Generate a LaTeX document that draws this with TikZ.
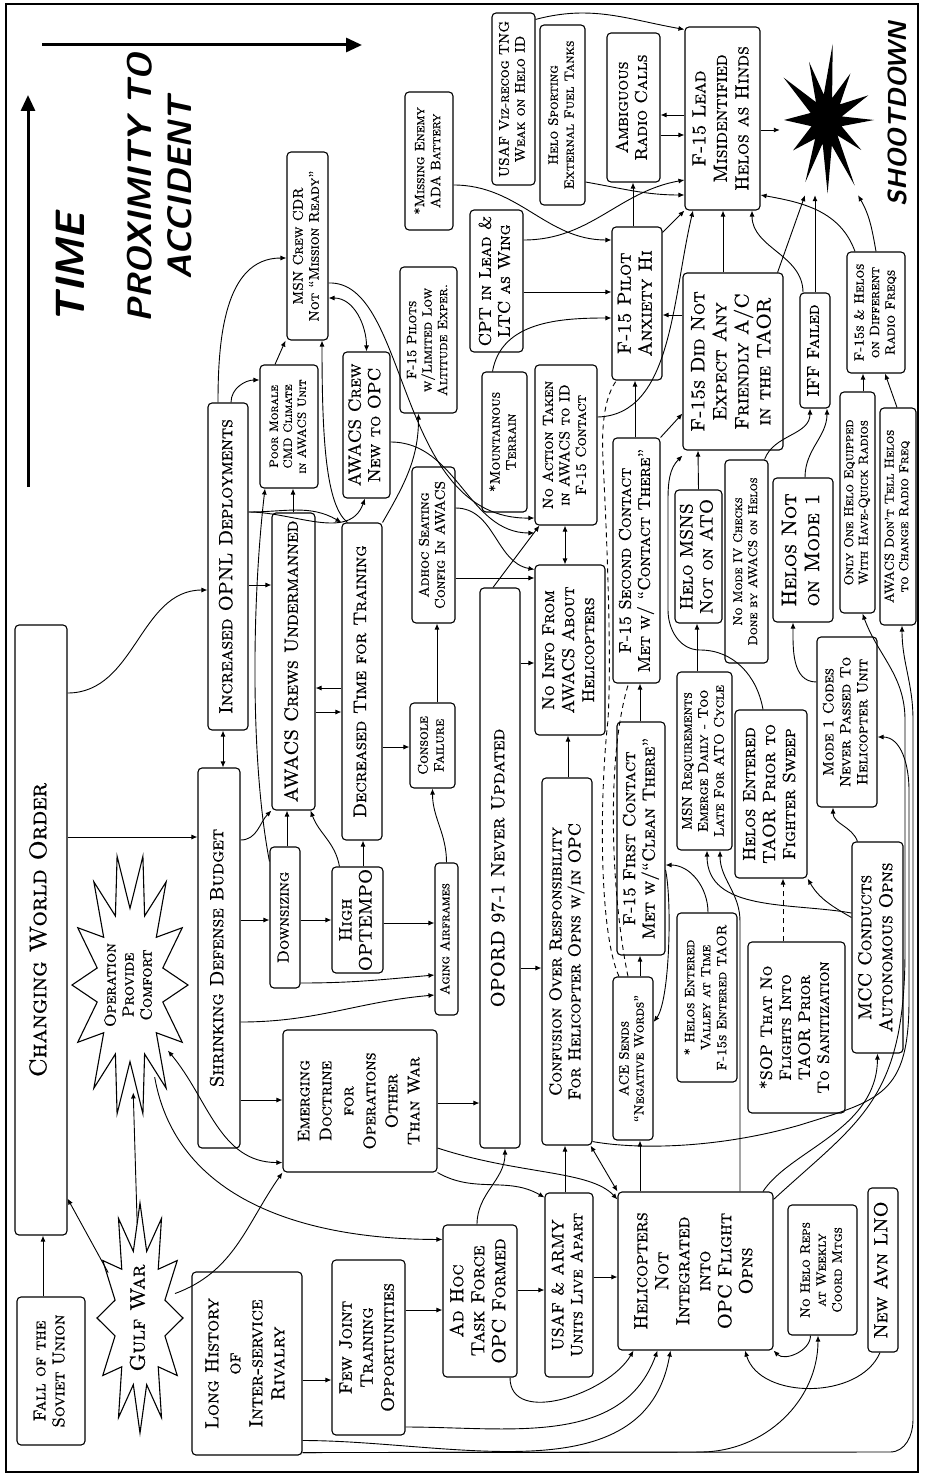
\documentclass[tikz,border=0pt]{standalone}
\usepackage{fontspec}
\usepackage{graphicx}
\newfontfamily\capsfont{lmromancaps10-regular.otf}[Ligatures=TeX, FakeBold=0.9]
\usetikzlibrary{arrows.meta,shapes.geometric}
\tikzset{cbox/.style = {draw, rounded corners=4pt, line width=1.1pt, inner sep=0pt}}
\tikzset{fs/.style 2 args = {font=\fontsize{#1}{#2}\selectfont\capsfont}}
\tikzset{arr/.style = {line width=0.9pt, -{Latex[length=6pt,width=5pt]}}}
\tikzset{darr/.style = {line width=0.9pt, {Latex[length=6pt,width=5pt]}-{Latex[length=6pt,width=5pt]}}}
\tikzset{dsh/.style = {line width=0.9pt, dash pattern=on 5pt off 4pt}}
\tikzset{ttl/.style = {font=\fontsize{#1}{#1}\selectfont\sffamily\bfseries\itshape, rotate=90, inner sep=0pt}}
\newcommand{\vt}[1]{\rotatebox{90}{\begin{tabular}{@{}c@{}}#1\end{tabular}}}

\begin{document}
\begin{tikzpicture}[x=1pt, y=-1pt]
\useasboundingbox (0,0) rectangle (924,1477);
\draw[line width=1.4pt] (6,4) rectangle (918,1472);

% time and proximity axes
\draw[line width=3pt, -{Triangle[length=16pt,width=14pt]}] (28,487) -- (28,95);
\draw[line width=3pt, -{Triangle[length=16pt,width=14pt]}] (42,45) -- (362,45);
\node[ttl=41] (time) at (70,268) {TIME};
\node[ttl=34] (prox) at (140,188) {PROXIMITY TO};
\node[ttl=34] (acc) at (180,188) {ACCIDENT};
\node[ttl=26] (shoot) at (897,114) {SHOOTDOWN};

% bursts
\draw[line width=1.1pt] plot[samples at={0,...,27}]
  ({130+58*(1-0.42*mod(\x,2))*cos(\x*360/28)}, {985+132*(1-0.42*mod(\x,2))*sin(\x*360/28)}) -- cycle;
\draw[line width=1.1pt] plot[samples at={0,...,23}]
  ({140+43*(1-0.4*mod(\x,2))*cos(\x*15)}, {1318+115*(1-0.4*mod(\x,2))*sin(\x*15)}) -- cycle;
\fill[shift={(826,120)}, yscale=1.6] (0:48) -- (14:16) -- (28:40) -- (40:15) -- (55:50) -- (70:17)
  -- (88:46) -- (103:15) -- (118:44) -- (133:16) -- (150:38) -- (165:15) -- (180:42) -- (196:16)
  -- (212:50) -- (228:15) -- (245:40) -- (262:16) -- (278:48) -- (294:15) -- (310:38) -- (325:17)
  -- (340:45) -- (352:16) -- cycle;
\node[ellipse, minimum width=92pt, minimum height=150pt, inner sep=0pt] (boom) at (826,120) {};
\node[ellipse, minimum width=95pt, minimum height=215pt, inner sep=0pt, fs={16}{18}] (opc) at (130,985) {\vt{Operation\\Provide\\Comfort}};
\node[ellipse, minimum width=72pt, minimum height=190pt, inner sep=0pt, fs={21}{23}] (gulf) at (140,1318) {\vt{Gulf War}};

% boxes
\node[cbox, minimum width=68pt, minimum height=148pt, fs={17}{19}] (fall) at (51,1371) {\vt{Fall of the\\Soviet Union}};
\node[cbox, minimum width=52pt, minimum height=610pt, fs={24}{26}] (cwo) at (41,930) {\vt{Changing World Order}};
\node[cbox, minimum width=110pt, minimum height=183pt, fs={19}{22}] (lhist) at (247,1363.5) {\vt{Long History\\of\\Inter-service\\Rivalry}};
\node[cbox, minimum width=73pt, minimum height=175pt, fs={18}{21}] (fewjt) at (368.5,1347.5) {\vt{Few Joint\\Training\\Opportunities}};
\node[cbox, minimum width=74pt, minimum height=152pt, fs={19}{21}] (adhoc) at (480,1301) {\vt{Ad Hoc\\Task Force\\OPC Formed}};
\node[cbox, minimum width=48pt, minimum height=184pt, fs={16.5}{19}] (usaf) at (569,1285) {\vt{USAF \& ARMY\\Units Live Apart}};
\node[cbox, minimum width=155pt, minimum height=158pt, fs={19}{21}] (heli) at (695.5,1271) {\vt{Helicopters\\Not\\Integrated\\into\\OPC Flight\\Opns}};
\node[cbox, minimum width=69pt, minimum height=130pt, fs={13.5}{16}] (norep) at (822.5,1270) {\vt{No Helo Reps\\at Weekly\\Coord Mtgs}};
\node[cbox, minimum width=30pt, minimum height=164pt, fs={19}{21}] (lno) at (883,1270) {\vt{New Avn LNO}};
\node[cbox, minimum width=42pt, minimum height=380pt, fs={19}{21}] (sdb) at (219,958) {\vt{Shrinking Defense Budget}};
\node[cbox, minimum width=154pt, minimum height=142pt, fs={17}{22}] (emerg) at (360,1101) {\vt{Emerging\\Doctrine\\for\\Operations\\Other\\Than War}};
\node[cbox, minimum width=40pt, minimum height=560pt, fs={19}{21}] (opord) at (500,868) {\vt{OPORD 97-1 Never Updated}};
\node[cbox, minimum width=50pt, minimum height=367pt, fs={17}{19}] (conf) at (567,961.5) {\vt{Confusion Over Responsibility\\For Helicopter Opns w/in OPC}};
\node[cbox, minimum width=40pt, minimum height=163pt, fs={13.5}{15}] (ace) at (633,1058.5) {\vt{ACE Sends\\``Negative Words''}};
\node[cbox, minimum width=60pt, minimum height=169pt, fs={13.5}{16}] (valley) at (707,997.5) {\vt{* Helos Entered\\Valley at Time\\F-15s Entered TAOR}};
\node[cbox, minimum width=97pt, minimum height=171pt, fs={16.5}{19}] (sop) at (796.5,1027.5) {\vt{*SOP That No\\Flights Into\\TAOR Prior\\To Sanitization}};
\node[cbox, minimum width=51pt, minimum height=211pt, fs={18.5}{21}] (mcc) at (877.5,947.5) {\vt{MCC Conducts\\Autonomous Opns}};
\node[cbox, minimum width=48pt, minimum height=233pt, fs={17.5}{19.5}] (first) at (641,838.5) {\vt{F-15 First Contact\\Met w/``Clean There''}};
\node[cbox, minimum width=55pt, minimum height=178pt, fs={14}{16}] (msnreq) at (704.5,761) {\vt{MSN Requirements\\Emerge Daily - Too\\Late For ATO Cycle}};
\node[cbox, minimum width=72pt, minimum height=168pt, fs={17.5}{20}] (taor) at (771,794) {\vt{Helos Entered\\TAOR Prior to\\Fighter Sweep}};
\node[cbox, minimum width=60pt, minimum height=170pt, fs={15}{17}] (mode1c) at (847,722) {\vt{Mode 1 Codes\\Never Passed To\\Helicopter Unit}};
\node[cbox, minimum width=47pt, minimum height=245pt, fs={17}{19}] (second) at (636.5,560.5) {\vt{F-15 Second Contact\\Met w/ ``Contact There''}};
\node[cbox, minimum width=47pt, minimum height=133pt, fs={18}{20}] (msns) at (698.5,556.5) {\vt{Helo MSNS\\Not on ATO}};
\node[cbox, minimum width=43pt, minimum height=203pt, fs={12.5}{15}] (modeiv) at (746.5,561.5) {\vt{No Mode IV Checks\\Done by AWACS on Helos}};
\node[cbox, minimum width=60pt, minimum height=144pt, fs={21}{23}] (notm1) at (803,550) {\vt{Helos Not\\on Mode 1}};
\node[cbox, minimum width=35pt, minimum height=221pt, fs={13}{14.5}] (havequick) at (857.5,502.5) {\vt{Only One Helo Equipped\\With Have-Quick Radios}};
\node[cbox, minimum width=36pt, minimum height=217pt, fs={13}{14.5}] (donttell) at (898,516.5) {\vt{AWACS Don't Tell Helos\\to Change Radio Freq}};
\node[cbox, minimum width=30pt, minimum height=115pt, fs={17}{19}] (iff) at (815,350.5) {\vt{IFF Failed}};
\node[cbox, minimum width=58pt, minimum height=121pt, fs={13.5}{15.5}] (diffreq) at (876,312.5) {\vt{F-15s \& Helos\\on Different\\Radio Freqs}};
\node[cbox, minimum width=100pt, minimum height=177pt, fs={19.5}{22}] (noexp) at (733,361.5) {\vt{F-15s Did Not\\Expect Any\\Friendly A/C\\in the TAOR}};
\node[cbox, minimum width=75pt, minimum height=183pt, fs={19}{21.5}] (lead) at (722.5,118.5) {\vt{F-15 Lead\\Misidentified\\Helos as Hinds}};
\node[cbox, minimum width=53pt, minimum height=149pt, fs={17}{19}] (ambig) at (633.5,107.5) {\vt{Ambiguous\\Radio Calls}};
\node[cbox, minimum width=50pt, minimum height=153pt, fs={19}{21}] (anx) at (637,303.5) {\vt{F-15 Pilot\\Anxiety Hi}};
\node[cbox, minimum width=45pt, minimum height=180pt, fs={13.5}{16}] (fuel) at (562.5,115) {\vt{Helo Sporting\\External Fuel Tanks}};
\node[cbox, minimum width=43pt, minimum height=172pt, fs={14}{16}] (vizrec) at (513.5,99) {\vt{USAF Viz-recog TNG\\Weak on Helo ID}};
\node[cbox, minimum width=53pt, minimum height=142pt, fs={17}{19}] (cpt) at (496.5,281) {\vt{CPT in Lead \&\\LTC as Wing}};
\node[cbox, minimum width=48pt, minimum height=138pt, fs={13.5}{16}] (ada) at (429,161) {\vt{*Missing Enemy\\ADA Battery}};
\node[cbox, minimum width=57pt, minimum height=146pt, fs={13.5}{15.5}] (pilots) at (428.5,340) {\vt{F-15 Pilots\\w/Limited Low\\Altitude Exper.}};
\node[cbox, minimum width=45pt, minimum height=140pt, fs={14}{16}] (mount) at (504.5,442) {\vt{*Mountainous\\Terrain}};
\node[cbox, minimum width=62pt, minimum height=160pt, fs={14.5}{16.5}] (noact) at (566,445) {\vt{No Action Taken\\in AWACS to ID\\F-15 Contact}};
\node[cbox, minimum width=70pt, minimum height=170pt, fs={17}{20}] (noinfo) at (570,650) {\vt{No Info From\\AWACS About\\Helicopters}};
\node[cbox, minimum width=43pt, minimum height=156pt, fs={14}{16}] (adhocseat) at (433.5,545) {\vt{Adhoc Seating\\Config In AWACS}};
\node[cbox, minimum width=45pt, minimum height=85pt, fs={14}{16}] (console) at (432.5,745.5) {\vt{Console\\Failure}};
\node[cbox, minimum width=23pt, minimum height=152pt, fs={13}{14}] (aging) at (446.5,939) {\vt{Aging Airframes}};
\node[cbox, minimum width=51pt, minimum height=106pt, fs={18}{20}] (optempo) at (357.5,920) {\vt{High\\OPTEMPO}};
\node[cbox, minimum width=40pt, minimum height=317pt, fs={18}{20}] (decr) at (362,681.5) {\vt{Decreased Time for Training}};
\node[cbox, minimum width=47pt, minimum height=146pt, fs={17.5}{19.5}] (crewnew) at (366.5,425) {\vt{AWACS Crew\\New to OPC}};
\node[cbox, minimum width=41pt, minimum height=188pt, fs={14}{16}] (msncdr) at (307.5,246) {\vt{MSN Crew CDR\\Not ``Mission Ready''}};
\node[cbox, minimum width=58pt, minimum height=123pt, fs={12}{14}] (morale) at (289,426.5) {\vt{Poor Morale\\CMD Climate\\in AWACS Unit}};
\node[cbox, minimum width=43pt, minimum height=297pt, fs={19}{21}] (undermanned) at (293.5,661.5) {\vt{AWACS Crews Undermanned}};
\node[cbox, minimum width=30pt, minimum height=141pt, fs={16}{18}] (downsz) at (285,917.5) {\vt{Downsizing}};
\node[cbox, minimum width=40pt, minimum height=327pt, fs={19}{21}] (incr) at (228,566.5) {\vt{Increased OPNL Deployments}};

% early causes
\draw[arr] ([xshift=-8pt]fall.north) -- ([xshift=-8pt]fall.north |- cwo.south);
\draw[arr] (gulf.125) -- ([yshift=37pt]cwo.south east);
\draw[arr] (gulf) -- (opc);
\draw[arr] (gulf.35) to[out=20,in=235] (emerg.south west);
\draw[darr] (opc.300) to[out=-50,in=180] ([yshift=10pt]emerg.south west);
\draw[arr] (opc.285) to[out=-80,in=180] ([yshift=-15pt]adhoc.north west);
\draw[arr] ([yshift=93pt]cwo.east) -- ([yshift=121pt]sdb.west);
\draw[arr] ([yshift=237pt]cwo.east) to[out=0,in=180] ([yshift=-23.5pt]incr.west);

% budget and manning
\draw[darr] ([xshift=4pt]sdb.north) -- ([xshift=-5pt]incr.south);
\draw[arr] ([yshift=118pt]sdb.east) to[out=0,in=225] (undermanned.south west);
\draw[arr] ([yshift=38pt]sdb.east) -- ([yshift=-2.5pt]downsz.west);
\draw[arr] ([yshift=-142pt]sdb.east) -- ([yshift=1pt]emerg.west);
\draw[arr] ([yshift=-64pt]sdb.east) to[out=0,in=185] ([yshift=-56pt]aging.west);
\draw[arr] ([yshift=-65.5pt]downsz.east) to[out=0,in=185] ([yshift=-36pt]aging.west);
\draw[arr] ([xshift=2pt]downsz.north) -- ([xshift=-6.5pt]undermanned.south);
\draw[arr] ([yshift=-15pt]downsz.north west) .. controls (250,760) and (252,600) .. ([xshift=-24pt]morale.south);
\draw[arr] ([xshift=-0.5pt]undermanned.north) -- ([xshift=4pt]morale.south);
\draw[arr] ([xshift=3pt]incr.north) to[out=90,in=180] ([yshift=46.5pt]morale.west);
\draw[arr] ([xshift=-10pt]incr.north) to[out=90,in=180] ([yshift=-12pt]msncdr.west);
\draw[arr] ([yshift=-18.5pt]incr.east) -- ([yshift=76.5pt]undermanned.west);
\draw[arr] ([yshift=54.5pt]incr.east) to[out=0,in=150] (decr.north west);
\draw[arr] ([yshift=54.5pt]incr.east) to[out=0,in=250] ([xshift=-1.5pt]crewnew.south);
\draw[arr] ([xshift=-14pt]morale.north) -- ([xshift=-22pt]msncdr.south);
\draw[arr] ([xshift=6pt]decr.north west) .. controls (326,505) and (322,440) .. ([xshift=14.5pt]msncdr.south);
\draw[darr] ([yshift=-52pt]msncdr.east) to[out=0,in=90] (crewnew.north);
\draw[arr] ([yshift=-37pt]msncdr.east) .. controls (410,280) and (395,520) .. ([yshift=-73pt]noact.west);
\draw[arr] ([yshift=-17pt]crewnew.east) to[out=0,in=180] ([yshift=-88pt]noact.west);
\draw[arr] (decr.north east) to[out=60,in=270] ([xshift=-10pt]pilots.south);
\draw[arr] ([yshift=-6.5pt]decr.west) -- ([yshift=-26.5pt]undermanned.east);
\draw[arr] ([yshift=-50.5pt]undermanned.east) -- ([yshift=-30.5pt]decr.west);
\draw[arr] ([xshift=8pt]optempo.north west) to[out=100,in=290] ([xshift=-5pt]undermanned.south east);
\draw[arr] ([xshift=5.5pt]optempo.north) -- ([xshift=1pt]decr.south);
\draw[arr] ([yshift=-2.5pt]downsz.east) -- (optempo.west);
\draw[arr] ([yshift=-3pt]optempo.east) -- ([yshift=16pt]aging.west);
\draw[arr] (aging.north) to[out=90,in=270] (console.south);
\draw[arr] ([yshift=-65.5pt]decr.east) -- ([yshift=-1.5pt]console.west);
\draw[arr] ([xshift=4.5pt]console.north) -- ([xshift=3.5pt]adhocseat.south);
\draw[arr] ([yshift=-33pt]adhocseat.east) -- ([yshift=72pt]noinfo.west);
\draw[arr] ([yshift=37pt]adhocseat.east) to[out=0,in=170] ([yshift=-5pt]noinfo.north west);

% orders and organisation
\draw[arr] ([yshift=205pt]opord.east) -- ([yshift=-13pt]noinfo.west);
\draw[arr] ([xshift=-7pt]opord.north) -- ([xshift=5pt]noact.south west);
\draw[darr] ([xshift=-1pt]noact.south) -- ([xshift=-5pt]noinfo.north);
\draw[arr] ([yshift=-100pt]opord.east) -- ([yshift=-6.5pt]conf.west);
\draw[arr] ([xshift=1pt]conf.north) -- ([xshift=-2pt]noinfo.south);
\draw[arr] ([yshift=-2pt]emerg.east) -- ([yshift=-235pt]opord.west);
\draw[arr] ([xshift=-3pt]adhoc.north) to[out=90,in=270] ([xshift=5pt]opord.south);
\draw[arr] ([yshift=11pt]adhoc.east) -- ([yshift=-5pt]usaf.west);
\draw[arr] ([xshift=-4pt]usaf.north) -- ([xshift=-2pt]conf.south);
\draw[arr] ([yshift=8pt]usaf.east) -- ([yshift=-6pt]heli.west);
\draw[arr] ([yshift=37.5pt]fewjt.east) -- ([yshift=-9pt]adhoc.west);
\draw[arr] ([yshift=-16.5pt]lhist.east) -- ([yshift=-32.5pt]fewjt.west);
\draw[arr] (emerg.south east) to[out=-30,in=150] ([yshift=-5pt]usaf.north west);
\draw[arr] ([yshift=-47pt]emerg.east) .. controls (520,1175) and (590,1170) .. ([yshift=-8pt]heli.north west);
\draw[darr] ([xshift=-2pt]conf.south east) -- (heli.north west);
\draw[arr] ([yshift=4pt]conf.south east) .. controls (640,1150) and (720,1148) .. (800,1125)
  .. controls (880,1100) and (909,1095) .. (909,1000) -- (909,790) to[out=90,in=0] ([yshift=-15pt]mode1c.east);
\draw[arr] ([xshift=30pt]adhoc.south) to[out=270,in=240] ([xshift=-62pt]heli.south);
\draw[arr] ([yshift=-79.5pt]fewjt.east) to[out=0,in=250] ([xshift=-38pt]heli.south);
\draw[arr] ([yshift=-77pt]lhist.east) to[out=0,in=260] ([xshift=-25pt]heli.south);
\draw[arr] ([xshift=-12pt]norep.south) to[out=270,in=-45] (heli.south east);
\draw[arr] ([xshift=-3pt]lno.south) .. controls (860,1400) and (760,1400) .. ([xshift=49.5pt]heli.south);
\draw[arr] ([yshift=3pt]lhist.south east) -- (700,1452) to[out=0,in=270] ([xshift=-4.5pt]norep.south);
\draw[arr] ([yshift=3pt]lhist.south east) -- (890,1452) to[out=0,in=270] (913,1420) -- (913,720) to[out=90,in=270] ([xshift=4pt]donttell.south);
\draw[arr] ([xshift=67.5pt]heli.north) .. controls (790,1150) and (877,1130) .. (mcc.south);
\draw[arr] ([yshift=-8pt]heli.north east) .. controls (860,1120) and (905,1100) .. (905,950) -- (905,720) to[out=90,in=290] ([xshift=5pt]havequick.south);
\draw[arr] ([xshift=44.5pt]heli.north) -- ++(0,-270) to[out=90,in=270] ([xshift=15.5pt]msnreq.south);

% helicopter operations
\draw[arr] ([yshift=34.5pt]mcc.west) to[out=170,in=270] ([xshift=2.5pt]msnreq.south);
\draw[arr] ([yshift=30pt]mcc.west) to[out=150,in=300] (taor.south east);
\draw[arr] ([xshift=-20pt]mcc.north) to[out=110,in=270] ([xshift=-14pt]mode1c.south);
\draw[dsh, arr] ([xshift=-13.5pt]sop.north) -- ([xshift=12pt]taor.south);
\draw[arr] ([yshift=40pt]mode1c.west) to[out=180,in=270] ([xshift=-10pt]notm1.south);
\draw[arr] ([xshift=2pt]notm1.north) to[out=90,in=270] ([xshift=12pt]iff.south);
\draw[arr] ([xshift=-4pt]modeiv.north east) to[out=70,in=270] ([xshift=-5pt]iff.south);
\draw[arr] (iff.north) -- ([xshift=-11pt]boom.south);
\draw[arr] ([xshift=-12pt]iff.north) to[out=90,in=270] ([xshift=29.5pt]lead.south);
\draw[arr] ([xshift=5.5pt]havequick.north) -- ([xshift=-13pt]diffreq.south);
\draw[arr] ([xshift=-1pt]donttell.north) -- ([xshift=9pt]diffreq.south);
\draw[arr] (diffreq.north) to[out=100,in=-60] ([xshift=32pt]boom.south);
\draw[arr] ([xshift=-21pt]diffreq.north) to[out=110,in=-10] ([yshift=-76.5pt]lead.east);

% contacts and pilots
\draw[arr] ([xshift=-1pt]first.north) -- ([xshift=3.5pt]second.south);
\draw[arr] ([xshift=7pt]ace.north) -- ([xshift=-1pt]first.south);
\draw[arr] ([xshift=-55.5pt]heli.north) -- ([xshift=7pt]ace.south);
\draw[arr] ([xshift=-1.5pt]second.north) -- ([xshift=-2pt]anx.south);
\draw[arr] (second.north east) -- ([yshift=37pt]noexp.south west);
\draw[arr] (msns.north) -- ([xshift=-35pt]noexp.south);
\draw[arr] ([xshift=-7.5pt]msnreq.north) -- ([xshift=-1.5pt]msns.south);
\draw[arr] ([xshift=1pt]valley.north) to[out=90,in=0] ([yshift=-26.5pt]first.east);
\draw[arr] ([yshift=-31.5pt]first.east) .. controls (672,900) and (670,1000) .. ([yshift=36.5pt]ace.east);
\draw[arr] ([yshift=28pt]noact.east) .. controls (672,415) and (672,300) .. ([xshift=-29.5pt]lead.south);
\draw[arr] ([xshift=-8pt]taor.north) to[out=100,in=0] (700,650) to[out=180,in=270] (668,610) -- (668,500) to[out=90,in=225] ([yshift=-5pt]noexp.south west);
\draw[dsh] ([xshift=-14pt]ace.north) .. controls (598,930) and (600,790) .. (608,720)
  .. controls (612,650) and (606,520) .. (603,460) .. controls (601,420) and (606,395) .. ([xshift=5pt]anx.south west);
\draw[dsh] ([xshift=-5pt]ace.north) .. controls (612,900) and (605,760) .. ([xshift=-8pt]second.south);
\draw[arr] ([yshift=-11.5pt]lead.east) -- ([yshift=-10pt]boom.west);
\draw[arr] ([xshift=-10pt]noexp.north) -- ([xshift=0.5pt]lead.south);
\draw[arr] ([xshift=-6pt]noexp.north east) -- ([xshift=-21pt]boom.south);
\draw[arr] ([yshift=46.5pt]noexp.west) -- ([yshift=-11.5pt]anx.east);
\draw[arr] ([yshift=-6pt]anx.north east) -- (lead.south west);
\draw[arr] ([xshift=-4pt]anx.north) -- ([xshift=-0.5pt]ambig.south);
\draw[arr] ([yshift=3.5pt]lead.west) -- ([yshift=-7.5pt]ambig.east);
\draw[arr] ([yshift=-27.5pt]ambig.east) -- ([yshift=-16.5pt]lead.west);
\draw[arr] ([yshift=-7pt]vizrec.north east) to[out=15,in=170] ([yshift=-3pt]lead.north west);
\draw[arr] ([yshift=-67pt]fuel.east) to[out=-10,in=180] ([yshift=-76.5pt]lead.west);
\draw[arr] ([yshift=41pt]cpt.east) to[out=0,in=190] ([yshift=-61.5pt]lead.west);
\draw[arr] ([yshift=-11pt]cpt.east) -- ([yshift=11.5pt]anx.west);
\draw[arr] ([yshift=-24pt]ada.east) to[out=0,in=180] ([yshift=63.5pt]anx.west);
\draw[arr] ([xshift=-12pt]mount.north) to[out=80,in=180] ([yshift=-14.5pt]anx.west);
\end{tikzpicture}
\end{document}
